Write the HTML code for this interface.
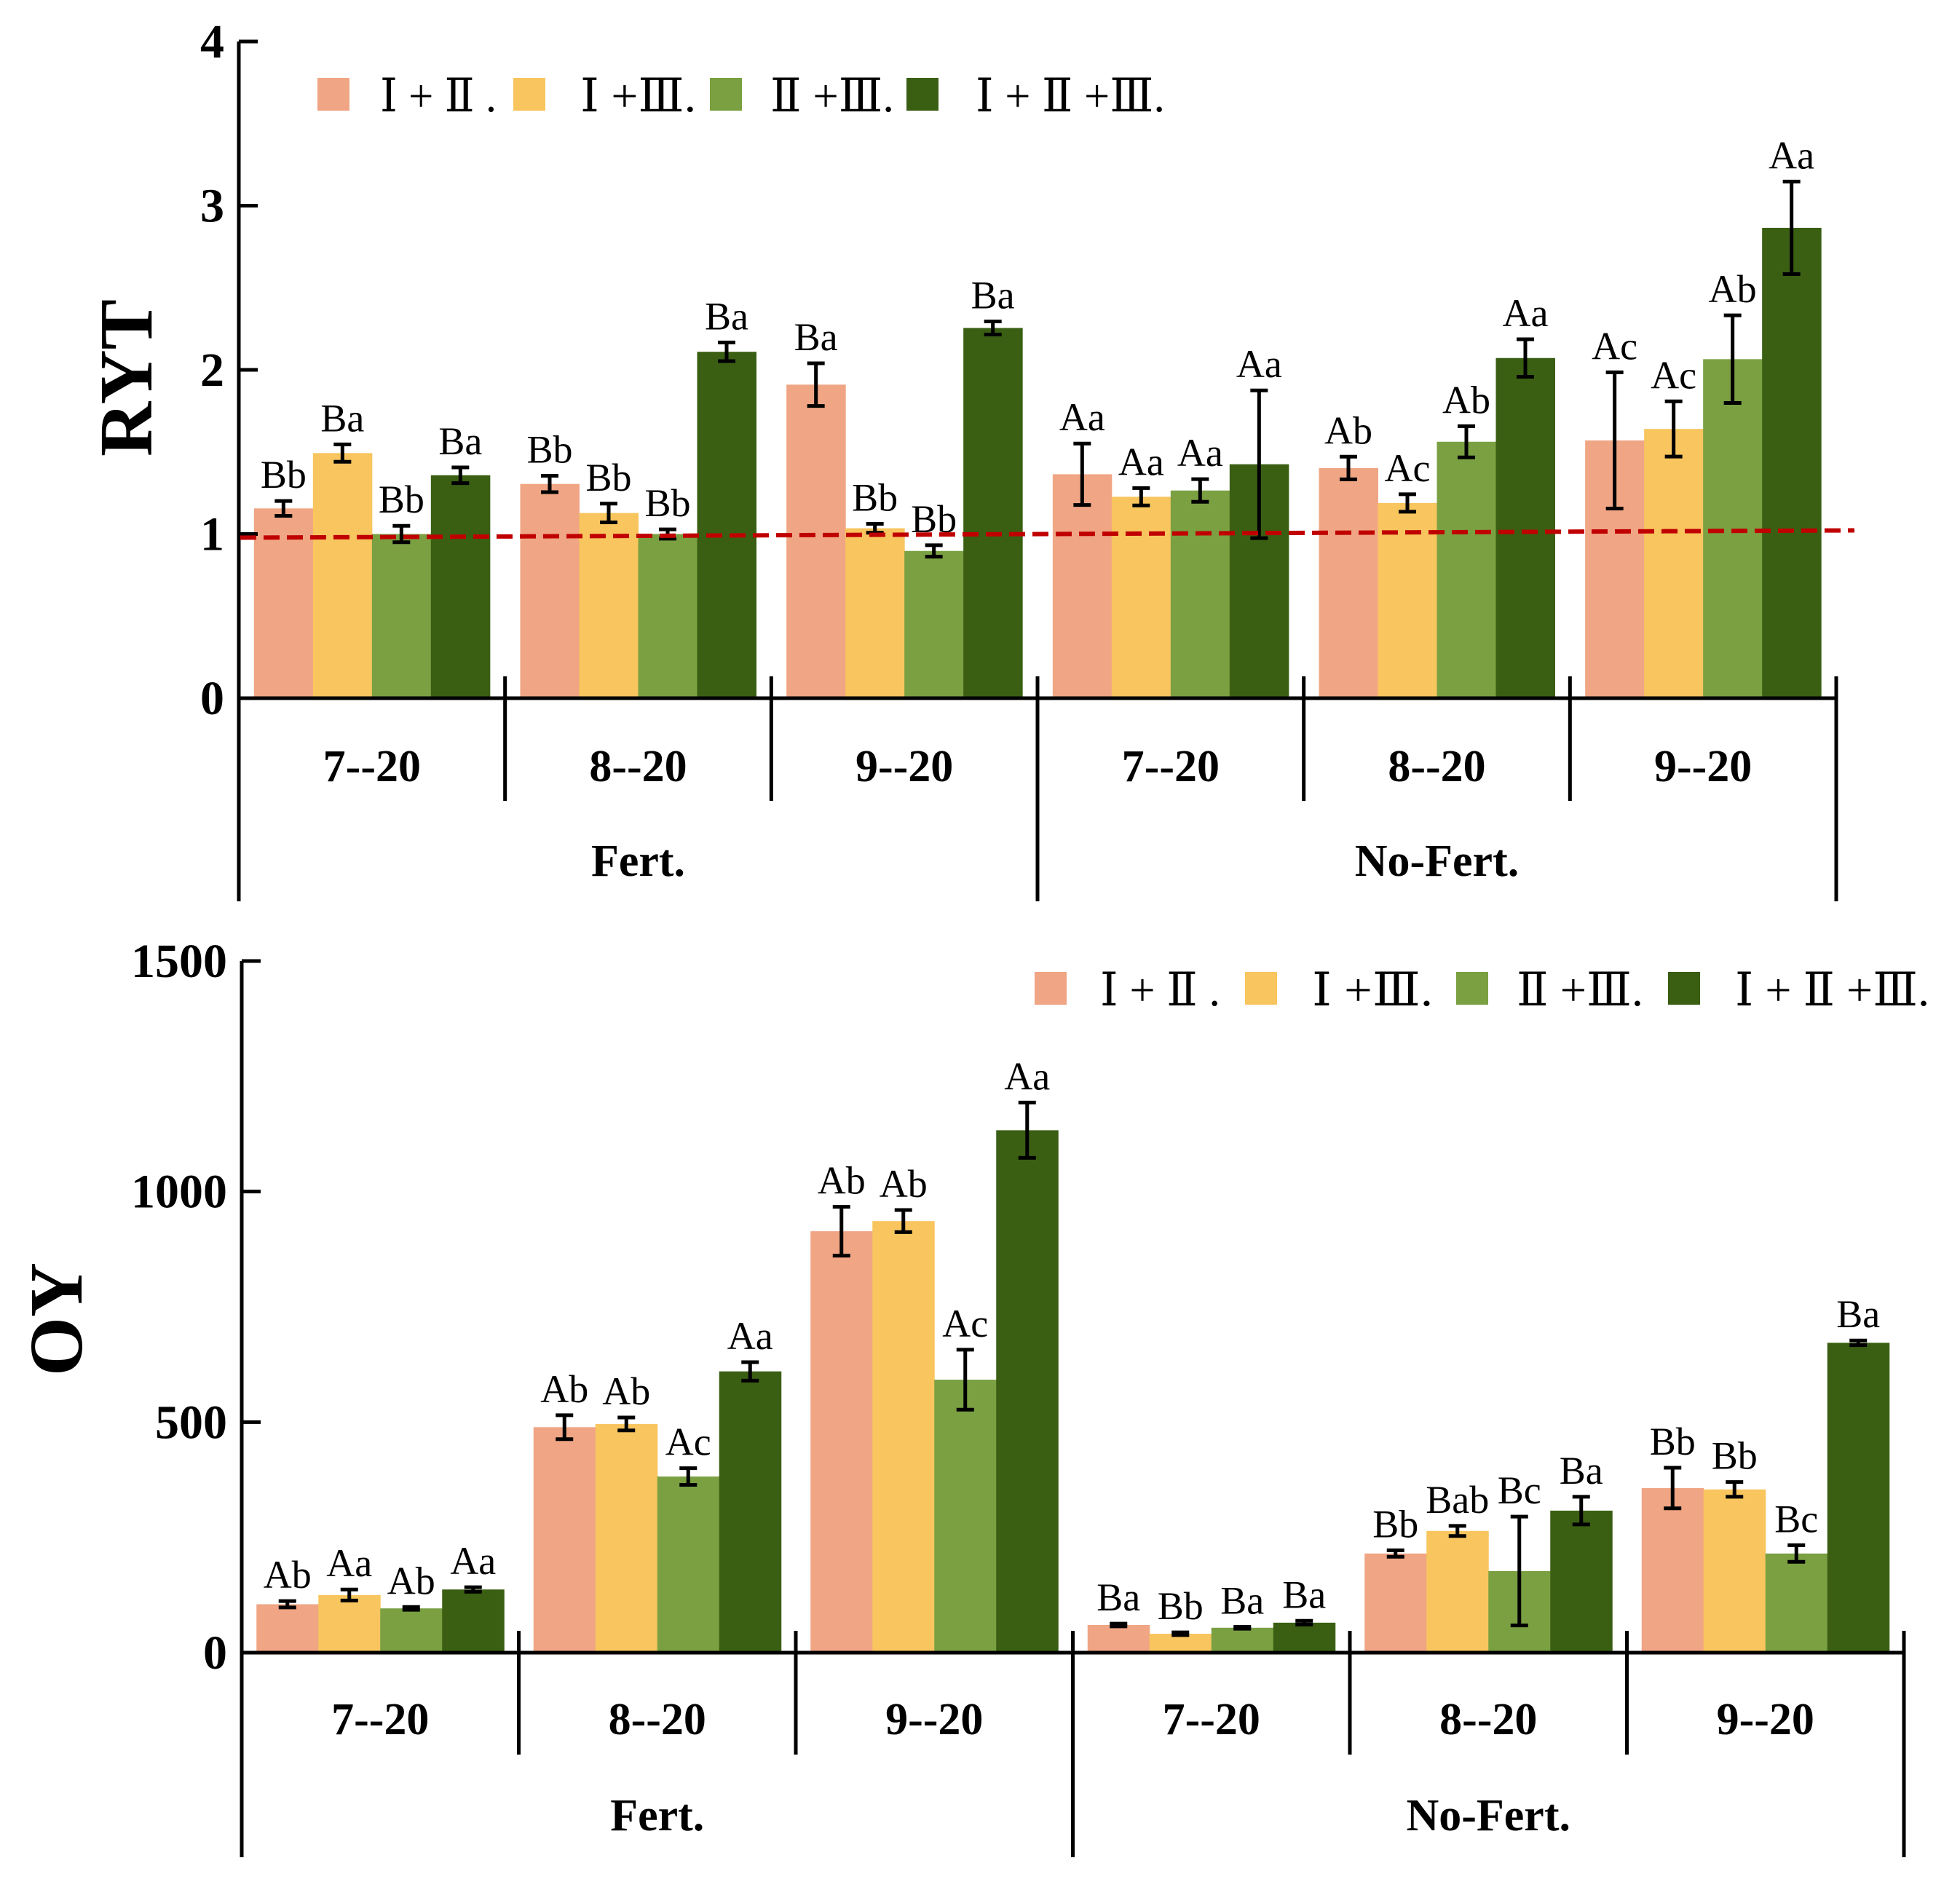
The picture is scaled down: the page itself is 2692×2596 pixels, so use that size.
<!DOCTYPE html>
<html><head><meta charset="utf-8">
<style>
html,body{margin:0;padding:0;background:#fff;}
svg{display:block;font-family:"Liberation Serif","DejaVu Serif",serif;}
</style></head>
<body>
<svg id="fig" width="2692" height="2596" viewBox="0 0 2692 2596" xmlns="http://www.w3.org/2000/svg"></svg>
<script>
const seriesNames = ["Ⅰ + Ⅱ .", "Ⅰ +Ⅲ.", "Ⅱ +Ⅲ.", "Ⅰ + Ⅱ +Ⅲ."];
const colors = ["#f0a584", "#f8c55e", "#7aa042", "#3a5f13"];
const groupLabels = ["7--20", "8--20", "9--20", "7--20", "8--20", "9--20"];
const treatLabels = ["Fert.", "No-Fert."];
// RYT panel
const rytTicks = [0, 1, 2, 3, 4];
const rytS1 = [1.156, 1.305, 1.91, 1.364, 1.402, 1.57];
const rytS2 = [1.493, 1.128, 1.035, 1.227, 1.189, 1.64];
const rytS3 = [1.0, 1.0, 0.897, 1.265, 1.562, 2.065];
const rytS4 = [1.358, 2.11, 2.255, 1.425, 2.072, 2.865];
const rytE1 = [0.045, 0.05, 0.13, 0.187, 0.069, 0.415];
const rytE2 = [0.053, 0.057, 0.027, 0.053, 0.053, 0.168];
const rytE3 = [0.05, 0.028, 0.035, 0.069, 0.095, 0.267];
const rytE4 = [0.048, 0.057, 0.04, 0.45, 0.114, 0.282];
const rytL1 = ["Bb", "Bb", "Ba", "Aa", "Ab", "Ac"];
const rytL2 = ["Ba", "Bb", "Bb", "Aa", "Ac", "Ac"];
const rytL3 = ["Bb", "Bb", "Bb", "Aa", "Ab", "Ab"];
const rytL4 = ["Ba", "Ba", "Ba", "Aa", "Aa", "Aa"];
// OY panel
const oyTicks = [0, 500, 1000, 1500];
const oyS1 = [105, 489, 914, 60, 215, 357];
const oyS2 = [125, 496, 936, 41, 264, 354];
const oyS3 = [96, 382, 592, 54, 177, 215];
const oyS4 = [137, 610, 1133, 65, 308, 672];
const oyE1 = [7, 26, 53, 3, 7, 44];
const oyE2 = [12, 14, 24, 3, 11, 16];
const oyE3 = [3, 18, 65, 2, 118, 18];
const oyE4 = [5, 20, 60, 4, 30, 5];
const oyL1 = ["Ab", "Ab", "Ab", "Ba", "Bb", "Bb"];
const oyL2 = ["Aa", "Ab", "Ab", "Bb", "Bab", "Bb"];
const oyL3 = ["Ab", "Ac", "Ac", "Ba", "Bc", "Bc"];
const oyL4 = ["Aa", "Aa", "Aa", "Ba", "Ba", "Ba"];

const NS = "http://www.w3.org/2000/svg";
const svg = document.getElementById("fig");
function mk(tag, attrs, parent, text) {
  const e = document.createElementNS(NS, tag);
  for (const k in attrs) e.setAttribute(k, attrs[k]);
  if (text !== undefined) e.textContent = text;
  (parent || svg).appendChild(e);
  return e;
}

function panel(cfg) {
  const g = mk("g", {});
  
  
  const yScale = v => cfg.y0 - (v - cfg.vmin) / (cfg.vmax - cfg.vmin) * (cfg.y0 - cfg.ytop);
  const gw = (cfg.xEnd - cfg.x0) / 6;
  const bw = cfg.bw;
  const pad = (gw - 4 * bw) / 2;
  const series = cfg.series, errs = cfg.errs, labs = cfg.labels;
  for (let gi = 0; gi < 6; gi++) {
    for (let s = 0; s < 4; s++) {
      const v = series[s][gi];
      const x = cfg.x0 + gi * gw + pad + s * bw;
      const y = yScale(v);
      const r = mk("rect", {x: x, y: y, width: bw + 0.5, height: cfg.y0 - y, fill: colors[s]}, g);
      
      
      const cx = x + bw / 2;
      const e = errs[s][gi];
      const yt = yScale(v + e), yb = yScale(v - e);
      const eg = mk("g", {stroke: "#000", "stroke-width": 5, fill: "none"}, g);
      
      
      mk("line", {x1: cx, x2: cx, y1: yt, y2: yb}, eg);
      mk("line", {x1: cx - 12, x2: cx + 12, y1: yt, y2: yt}, eg);
      mk("line", {x1: cx - 12, x2: cx + 12, y1: yb, y2: yb}, eg);
      const t = mk("text", {x: cx, y: yt - 18, "text-anchor": "middle", "font-size": cfg.lfs, fill: "#000"}, g, labs[s][gi]);
      
      
    }
  }
  const ax = mk("g", {stroke: "#000", "stroke-width": 5}, g);
  
  
  mk("line", {x1: cfg.x0, x2: cfg.x0, y1: cfg.ytop, y2: cfg.yBottomLong}, ax);
  mk("line", {x1: cfg.x0, x2: cfg.xEnd, y1: cfg.y0, y2: cfg.y0}, ax);
  cfg.ticks.forEach(tv => {
    const y = yScale(tv);
    mk("line", {x1: cfg.x0, x2: cfg.x0 + 26, y1: y, y2: y}, ax);
    const t = mk("text", {x: cfg.x0 - 20, y: y + 22, "text-anchor": "end", "font-size": 66, "font-weight": "bold", stroke: "none", fill: "#000"}, g, String(tv));
    
    
  });
  for (let k = 1; k <= 6; k++) {
    const x = cfg.x0 + k * gw;
    const long = (k === 3 || k === 6);
    mk("line", {x1: x, x2: x, y1: cfg.y0 - 30, y2: long ? cfg.yBottomLong : cfg.yBottomShort}, ax);
  }
  groupLabels.forEach((lab, i) => {
    const t = mk("text", {x: cfg.x0 + (i + 0.5) * gw, y: cfg.catY, "text-anchor": "middle", "font-size": 62, "font-weight": "bold", fill: "#000"}, g, lab);
    
    
  });
  treatLabels.forEach((lab, i) => {
    const t = mk("text", {x: cfg.x0 + (i * 3 + 1.5) * gw, y: cfg.treatY, "text-anchor": "middle", "font-size": 62, "font-weight": "bold", fill: "#000"}, g, lab);
    
    
  });
  const yt = mk("text", {x: 0, y: 0, transform: "translate(" + cfg.titleX + "," + cfg.titleY + ") rotate(-90)", "text-anchor": "middle", "font-size": 104, "font-weight": "bold", fill: "#000"}, g, cfg.title);
  
  
  const lg = mk("g", {}, g);
  
  
  for (let s = 0; s < 4; s++) {
    const it = mk("g", {}, lg);
    
    
    mk("rect", {x: cfg.legX[s], y: cfg.legY, width: 44, height: 45, fill: colors[s]}, it);
    mk("text", {x: cfg.legTX[s], y: cfg.legY + 46, "font-size": 64, textLength: cfg.legTW[s], lengthAdjust: "spacingAndGlyphs", fill: "#000"}, it, seriesNames[s]);
  }
  return yScale;
}

const yR = panel({name: "ryt-chart", key: "ryt", x0: 328, xEnd: 2522, y0: 959, ytop: 57, vmin: 0, vmax: 4, bw: 81,
  ticks: rytTicks, series: [rytS1, rytS2, rytS3, rytS4], errs: [rytE1, rytE2, rytE3, rytE4], labels: [rytL1, rytL2, rytL3, rytL4],
  lfs: 54, yBottomShort: 1100, yBottomLong: 1238, catY: 1073, treatY: 1203, title: "RYT", titleX: 208, titleY: 519,
  legX: [436, 705, 975, 1245], legY: 107, legTX: [522, 797, 1058, 1340], legTW: [160, 159, 170, 260]});
const ref = mk("line", {x1: 330, y1: yR(1) + 5, x2: 2547, y2: yR(1) - 5, stroke: "#c00000", "stroke-width": 6, "stroke-dasharray": "22 10"});



panel({name: "oy-chart", key: "oy", x0: 332, xEnd: 2615, y0: 2270, ytop: 1320, vmin: 0, vmax: 1500, bw: 85,
  ticks: oyTicks, series: [oyS1, oyS2, oyS3, oyS4], errs: [oyE1, oyE2, oyE3, oyE4], labels: [oyL1, oyL2, oyL3, oyL4],
  lfs: 54, yBottomShort: 2410, yBottomLong: 2551, catY: 2382, treatY: 2514, title: "OY", titleX: 112, titleY: 1812,
  legX: [1421, 1710, 2000, 2291], legY: 1335, legTX: [1511, 1802, 2083, 2383], legTW: [165, 166, 174, 267]});
</script>
</body></html>
